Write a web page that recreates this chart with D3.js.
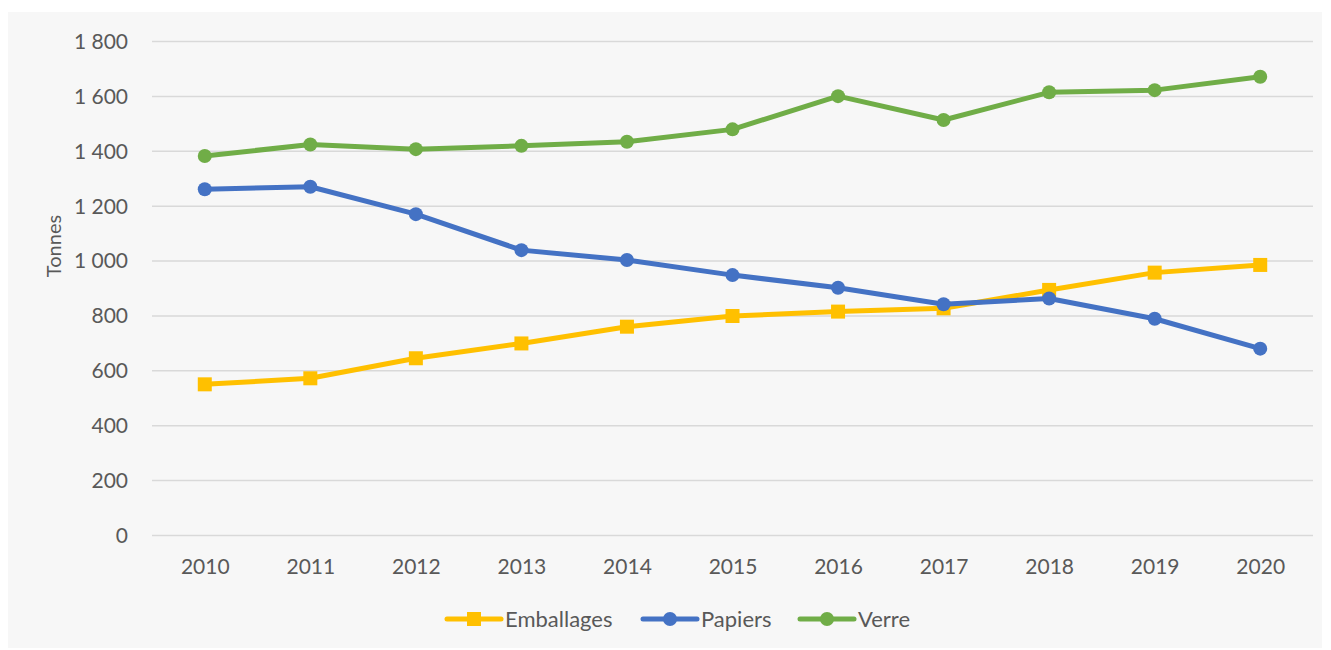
<!DOCTYPE html>
<html>
<head>
<meta charset="utf-8">
<script src="https://cdn.jsdelivr.net/npm/d3@7"></script>
<style>
  body { margin:0; background:#fff; }
  svg text { font-family: Lato, "Open Sans", sans-serif; fill:#595959; }
</style>
</head>
<body>
<svg id="chart" width="1331" height="650"></svg>
<script>
const annees = [2010,2011,2012,2013,2014,2015,2016,2017,2018,2019,2020];
const emballages = [549,571,644,698,759,798,814,826,893,956,984];
const papiers = [1260,1269,1169,1038,1002,947,901,841,862,788,679];
const verre = [1381,1423,1406,1418,1433,1478,1599,1512,1613,1621,1670];
const yTicks = [0,200,400,600,800,1000,1200,1400,1600,1800];

const series = [
  { nom:'Emballages', valeurs:emballages, couleur:'#FFC000', symbole:'carre' },
  { nom:'Papiers', valeurs:papiers, couleur:'#4472C4', symbole:'rond' },
  { nom:'Verre', valeurs:verre, couleur:'#70AD47', symbole:'rond' }
];

const svg = d3.select('#chart');
const plot = { left:152, right:1313, top:41, bottom:535 };

svg.append('rect').attr('x',8).attr('y',12).attr('width',1314).attr('height',636).attr('fill','#f7f7f7');

const x = d3.scalePoint().domain(annees).range([plot.left,plot.right]).padding(0.5);
const y = d3.scaleLinear().domain([0,1800]).range([plot.bottom,plot.top]);
const fr = d3.formatLocale({ decimal:',', thousands:'\u00a0', grouping:[3], currency:['','€'] });
const fmt = fr.format(',d');

// grille + axe y
const yAxis = svg.append('g').attr('transform',`translate(${plot.left},0)`)
  .call(d3.axisLeft(y).tickValues(yTicks).tickFormat(fmt).tickSize(-(plot.right-plot.left)).tickPadding(24));
yAxis.select('.domain').remove();
yAxis.selectAll('line').attr('stroke','#d9d9d9').attr('stroke-width',1.5);
yAxis.selectAll('text').attr('font-size',21).attr('fill','#595959').attr('dy','0.35em');

const xAxis = svg.append('g').attr('transform',`translate(0,${plot.bottom})`)
  .call(d3.axisBottom(x).tickSize(0).tickPadding(24));
xAxis.select('.domain').remove();
xAxis.selectAll('text').attr('font-size',21).attr('fill','#595959');

svg.append('text').attr('transform',`translate(61,246) rotate(-90)`)
  .attr('text-anchor','middle').attr('font-size',20).text('Tonnes');

const line = d3.line().x((d,i)=>x(annees[i])).y(d=>y(d));

function marque(g, s, cx, cy){
  if (s.symbole==='carre')
    g.append('rect').attr('x',cx-7).attr('y',cy-7).attr('width',14).attr('height',14).attr('fill',s.couleur);
  else
    g.append('circle').attr('cx',cx).attr('cy',cy).attr('r',7).attr('fill',s.couleur);
}

series.forEach(s=>{
  const g = svg.append('g');
  g.append('path').datum(s.valeurs).attr('d',line).attr('fill','none')
    .attr('stroke',s.couleur).attr('stroke-width',5).attr('stroke-linejoin','round');
  s.valeurs.forEach((v,i)=> marque(g, s, x(annees[i]), y(v)));
});

// légende
const legendeX = [445,641,798];
series.forEach((s,i)=>{
  const g = svg.append('g').attr('transform',`translate(${legendeX[i]},619)`);
  g.append('line').attr('x1',2).attr('x2',56).attr('stroke',s.couleur).attr('stroke-width',5).attr('stroke-linecap','round');
  marque(g, s, 29, 0);
  g.append('text').attr('x',60).attr('dy','0.35em').attr('font-size',22).text(s.nom);
});
</script>
</body>
</html>
